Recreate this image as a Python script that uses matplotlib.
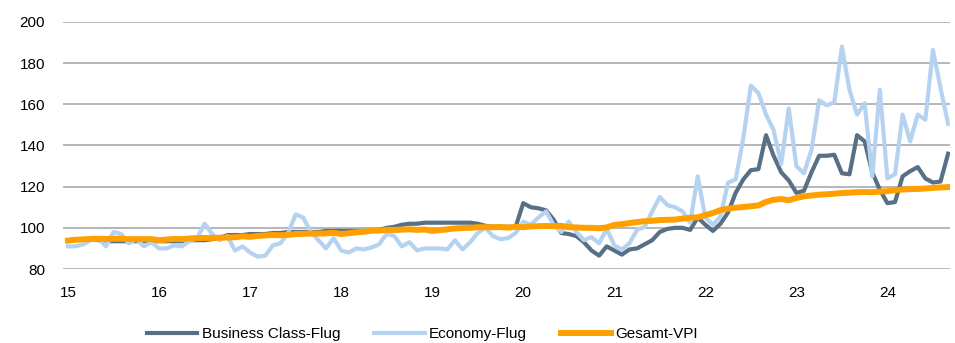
import matplotlib
matplotlib.use("Agg")
import matplotlib.pyplot as plt
import numpy as np

plt.rcParams["font.family"] = ["Liberation Sans", "DejaVu Sans"]

# monthly index values, Jan 2015 .. Sep 2024
business = [
    94, 94.5, 94.5, 94.5, 94, 93.5, 93.5, 93.5, 93.5, 93.5, 93.5, 93.5,
    93.5, 93.5, 93.5, 93.5, 94, 94, 94, 94.5, 95, 96.5, 96.5, 96.5,
    97, 97, 97, 97.5, 97.5, 98, 98, 98, 98, 98, 98.5, 98.5,
    98.5, 98.5, 98.5, 98.5, 98.5, 99, 100, 100.5, 101.5, 102, 102, 102.5,
    102.5, 102.5, 102.5, 102.5, 102.5, 102.5, 102, 101, 100.5, 100.5, 100.5, 100.5,
    112, 110, 109.5, 108.5, 104, 97.5, 97, 96, 93, 89, 86.5, 91,
    89, 87, 89.5, 90, 92, 94, 98, 99.5, 100, 100, 99, 105,
    101.5, 98.5, 102, 107.5, 117, 123.5, 128, 128.5, 145, 135, 127, 123,
    117, 118, 127, 135, 135, 135.5, 126.5, 126, 145, 142, 127, 118.5,
    112, 112.5, 125, 127.5, 129.5, 124, 122, 122.5, 136,
]
economy = [
    91, 91, 92, 94, 95, 91, 98, 97, 92.5, 94.5, 91, 93,
    90, 90, 91.5, 91, 93.5, 95, 102, 97, 94, 96, 89, 91,
    88, 86, 86.5, 91.5, 92.5, 97.5, 106.5, 105, 98, 94, 90, 95,
    89, 88, 90, 89.5, 90.5, 92, 97, 96, 91, 93, 89, 90,
    90, 90, 89.5, 94, 89.5, 93, 97.5, 100, 96, 94.5, 95, 97.5,
    103, 101.5, 105, 108, 101.5, 98, 103, 98, 94, 95.5, 92.5, 99.5,
    91.5, 89.5, 92.5, 99, 100.5, 108, 115, 111, 110, 108, 102.5, 125,
    105, 101.5, 105.5, 122, 123.5, 143.5, 169, 165.5, 155, 147.5, 131, 158,
    130, 126.5, 138, 162, 159.5, 161, 188, 167, 155, 160.5, 125, 167,
    124, 126, 155, 142, 155, 152.5, 186.5, 168, 150.5,
]
vpi = [
    93.8, 94.2, 94.4, 94.6, 94.7, 94.6, 94.7, 94.7, 94.5, 94.5, 94.5, 94.5,
    94.0, 94.3, 94.6, 94.5, 94.8, 95.0, 95.1, 95.1, 95.2, 95.3, 95.4, 95.9,
    95.6, 96.1, 96.3, 96.5, 96.4, 96.6, 97.0, 97.1, 97.2, 97.2, 97.3, 97.6,
    97.0, 97.4, 97.8, 98.1, 98.6, 98.7, 99.0, 99.0, 99.1, 99.3, 99.0, 99.2,
    98.5, 98.9, 99.3, 99.7, 99.9, 100.0, 100.3, 100.3, 100.3, 100.4, 100.1, 100.5,
    100.3, 100.7, 100.8, 100.9, 100.8, 101.0, 100.3, 100.2, 100.0, 100.0, 99.8, 100.2,
    101.4, 101.8, 102.3, 102.8, 103.2, 103.4, 103.8, 103.9, 104.0, 104.5, 104.9, 105.1,
    106.2, 107.2, 108.6, 109.3, 109.8, 110.1, 110.5, 110.9, 112.6, 113.6, 114.0, 113.4,
    114.5, 115.3, 115.7, 116.1, 116.3, 116.6, 116.9, 117.1, 117.3, 117.4, 117.3, 117.6,
    117.8, 118.3, 118.6, 118.8, 118.9, 119.1, 119.4, 119.6, 119.8,
]
years = list(range(2015, 2025))
year_labels = [str(y % 100) for y in years]
series_names = ["Business Class-Flug", "Economy-Flug", "Gesamt-VPI"]

x = 2015 + np.arange(len(vpi)) / 12

fig = plt.figure(figsize=(9.55, 3.43), dpi=100)
ax = fig.add_axes([0.066, 0.2157, 0.929, 0.7203])

ax.plot(x, business, color="#587086", lw=3.0, label=series_names[0], solid_joinstyle="round")
ax.plot(x, economy, color="#b5d3f0", lw=3.0, label=series_names[1], solid_joinstyle="round")
ax.plot(x, vpi, color="#ff9f00", lw=4.3, label=series_names[2], solid_joinstyle="round")

ax.set_ylim(80, 200)
ax.set_yticks(range(80, 201, 20))
ax.set_xlim(2014.945, 2024.69)
ax.set_xticks(years)
ax.set_xticklabels(year_labels)
ax.grid(axis="y", color="#a3a3a3", lw=1.1)
ax.set_axisbelow(True)
for side in ax.spines.values():
    side.set_visible(False)
ax.tick_params(axis="both", length=0, labelsize=11, colors="black")
ax.tick_params(axis="x", pad=12)
ax.tick_params(axis="y", pad=13)

fig.legend(loc="center left", bbox_to_anchor=(147 / 955, 1 - 334 / 343), ncol=3,
           frameon=False, fontsize=11, handlelength=3.3, handletextpad=0.3,
           columnspacing=2.2, borderpad=0, borderaxespad=0)

fig.savefig("out.png", dpi=100)
